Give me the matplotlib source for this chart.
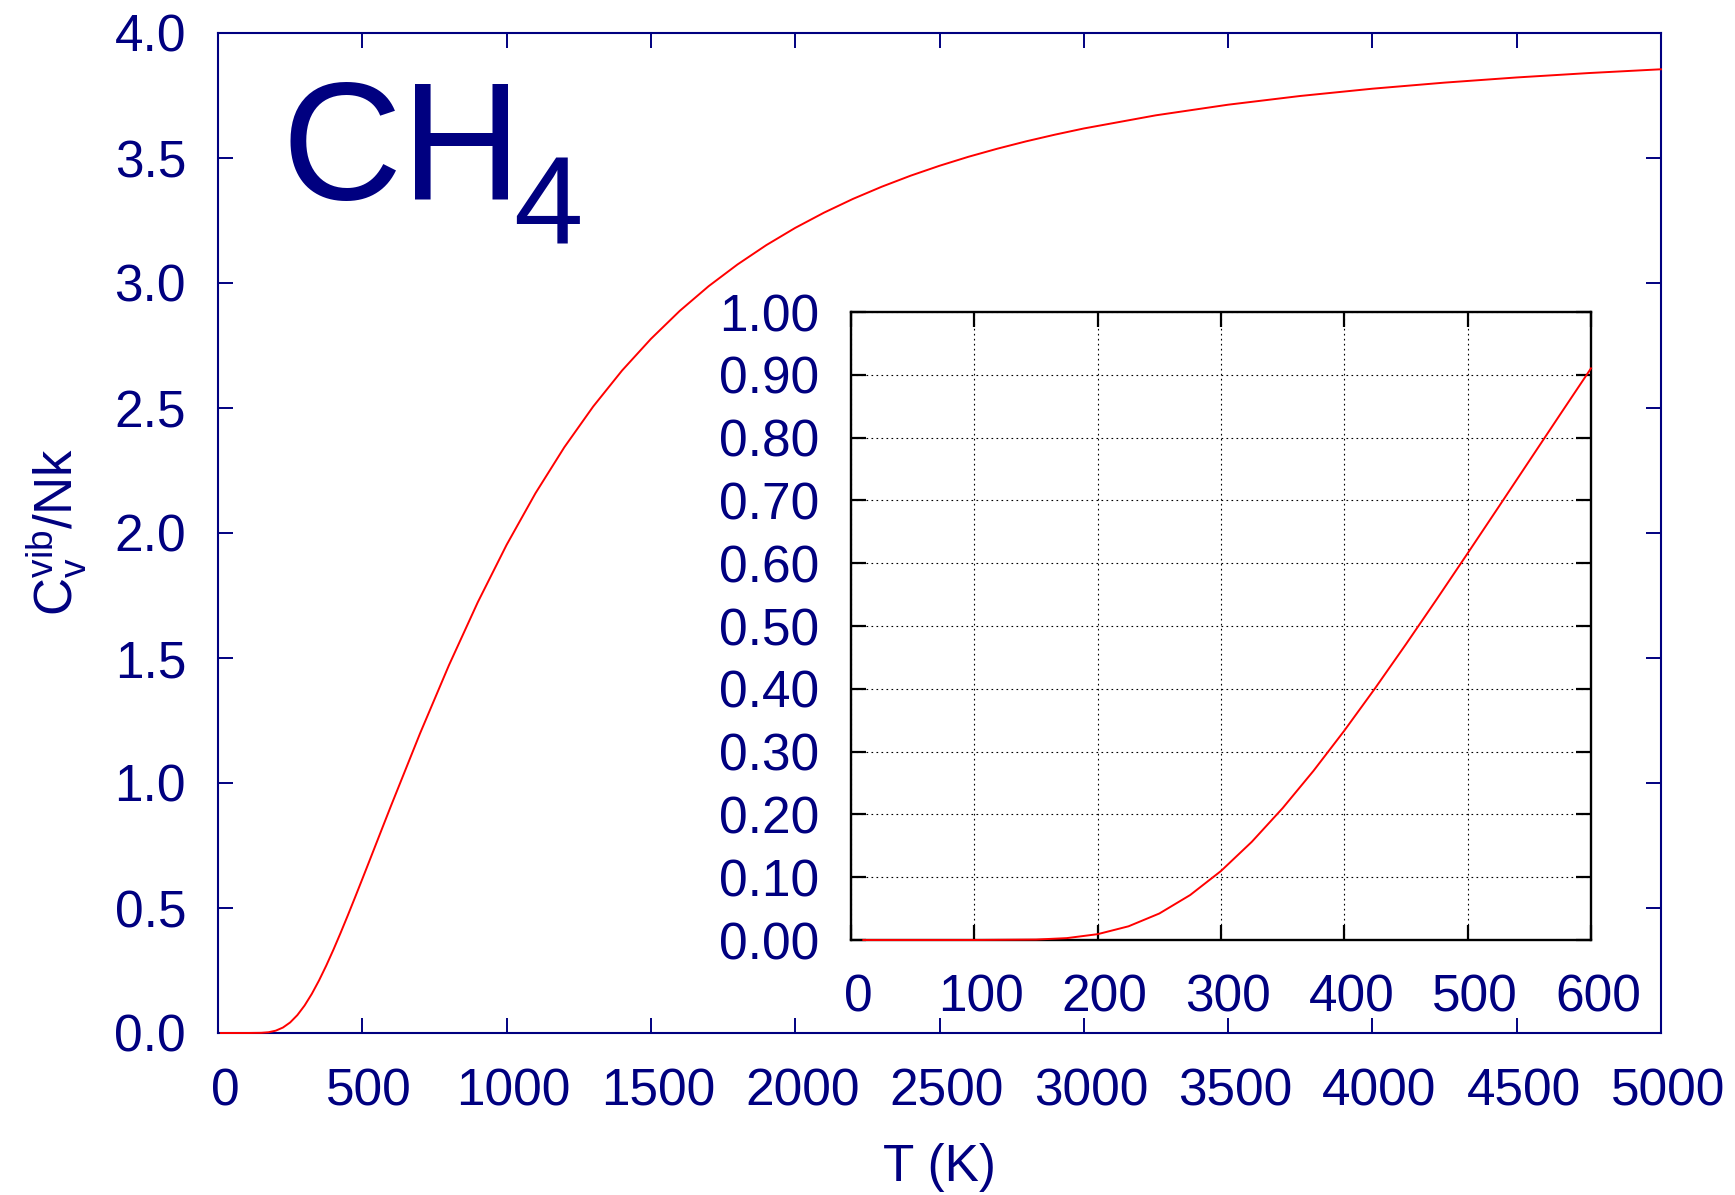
import matplotlib
import matplotlib.pyplot as plt
import matplotlib.ticker as mticker
from matplotlib.transforms import ScaledTranslation

matplotlib.use("Agg")

# values
temp_main = [10, 100, 150, 175, 200, 225, 250, 275, 300, 325,
             350, 375, 400, 425, 450, 475, 500, 525, 550, 575,
             600, 700, 800, 900, 1000, 1100, 1200, 1300, 1400, 1500,
             1600, 1700, 1800, 1900, 2000, 2100, 2200, 2300, 2400, 2500,
             2600, 2700, 2800, 2900, 3000, 3250, 3500, 3750, 4000, 4250,
             4500, 4750, 5000]
cv_main = [0.0, 0.0, 0.0007, 0.0030, 0.0093, 0.0218, 0.0422, 0.0716, 0.1099, 0.1564,
           0.2100, 0.2694, 0.3334, 0.4010, 0.4711, 0.5429, 0.6158, 0.6893, 0.7631, 0.8369,
           0.9103, 1.1981, 1.4705, 1.7227, 1.9526, 2.1590, 2.3430, 2.5059, 2.6498, 2.7764,
           2.8885, 2.9872, 3.0741, 3.1516, 3.2204, 3.2815, 3.3363, 3.3852, 3.4293, 3.4689,
           3.5048, 3.5371, 3.5666, 3.5934, 3.6181, 3.6708, 3.7132, 3.7481, 3.7772, 3.8015,
           3.8222, 3.8398, 3.8549]

# inset (low temperature zoom)
temp_zoom = [10, 50, 100, 150, 175, 200, 225, 250, 275, 300, 325,
             350, 375, 400, 425, 450, 475, 500, 525, 550, 575, 600]
cv_zoom = [0.0, 0.0, 0.0, 0.0007, 0.0030, 0.0093, 0.0218, 0.0422, 0.0716, 0.1099, 0.1564,
           0.2100, 0.2694, 0.3334, 0.4010, 0.4711, 0.5429, 0.6158, 0.6893, 0.7631, 0.8369, 0.9103]

main_xticks = [0, 500, 1000, 1500, 2000, 2500, 3000, 3500, 4000, 4500, 5000]
main_yticks = [0.0, 0.5, 1.0, 1.5, 2.0, 2.5, 3.0, 3.5, 4.0]
zoom_xticks = [0, 100, 200, 300, 400, 500, 600]
zoom_yticks = [0.0, 0.1, 0.2, 0.3, 0.4, 0.5, 0.6, 0.7, 0.8, 0.9, 1.0]

navy = "#000080"
W, H = 1735, 1195

plt.rcParams["font.family"] = ["Liberation Sans", "DejaVu Sans"]
plt.rcParams["mathtext.fontset"] = "custom"
plt.rcParams["mathtext.rm"] = "Liberation Sans"
plt.rcParams["mathtext.it"] = "Liberation Sans:italic"

fig = plt.figure(figsize=(W / 100, H / 100), dpi=100)

# Main axes
ax = fig.add_axes([218 / W, 1 - 1033 / H, 1443 / W, 1000 / H])
ax.plot(temp_main, cv_main, color="#ff0000", lw=1.4, zorder=3, clip_on=False)
ax.set_xlim(0, 5000)
ax.set_ylim(0, 4)
ax.set_xticks(main_xticks)
ax.set_yticks(main_yticks)
ax.yaxis.set_major_formatter(mticker.FormatStrFormatter("%.1f"))
ax.tick_params(direction="in", length=11, width=1.4, colors=navy,
               labelsize=37, top=True, right=True)
ax.tick_params(axis="x", pad=25)
ax.tick_params(axis="y", pad=23)
for s in ax.spines.values():
    s.set_color(navy)
    s.set_linewidth(1.5)

# Inset
ins = fig.add_axes([851 / W, 1 - 940 / H, 740 / W, 628 / H])
ins.plot(temp_zoom, cv_zoom, color="#ff0000", lw=1.4, zorder=3, clip_on=False)
ins.set_xlim(0, 600)
ins.set_ylim(0, 1)
ins.set_xticks(zoom_xticks)
ins.set_yticks(zoom_yticks)
ins.yaxis.set_major_formatter(mticker.FormatStrFormatter("%.2f"))
ins.tick_params(direction="in", length=11, width=1.6, color="black",
                labelcolor=navy, labelsize=37, top=True, right=True)
ins.tick_params(axis="x", pad=24)
ins.tick_params(axis="y", pad=23)
ins.grid(True, linestyle=(0, (1.5, 3)), color="black", lw=0.8)
for s in ins.spines.values():
    s.set_color("black")
    s.set_linewidth(1.7)

# x tick labels sit a bit right of their ticks
shift = ScaledTranslation(7 / 100, 0, fig.dpi_scale_trans)
for a in (ax, ins):
    for tick in a.xaxis.get_major_ticks():
        tick.label1.set_transform(tick.label1.get_transform() + shift)

# Labels
fig.text(57 / W, 1 - 532 / H, r"$\mathregular{C_v^{vib}/Nk}$", rotation=90,
         ha="center", va="center", fontsize=38, color=navy)
fig.text(939 / W, 1 - 1167 / H, "T (K)", ha="center", va="center",
         fontsize=37, color=navy)
fig.text(282 / W, 1 - 199 / H, "CH", ha="left", va="baseline",
         fontsize=120, color=navy)
fig.text(513 / W, 1 - 243 / H, "4", ha="left", va="baseline",
         fontsize=90, color=navy)

fig.savefig("out.png", dpi=100)
plt.close(fig)
